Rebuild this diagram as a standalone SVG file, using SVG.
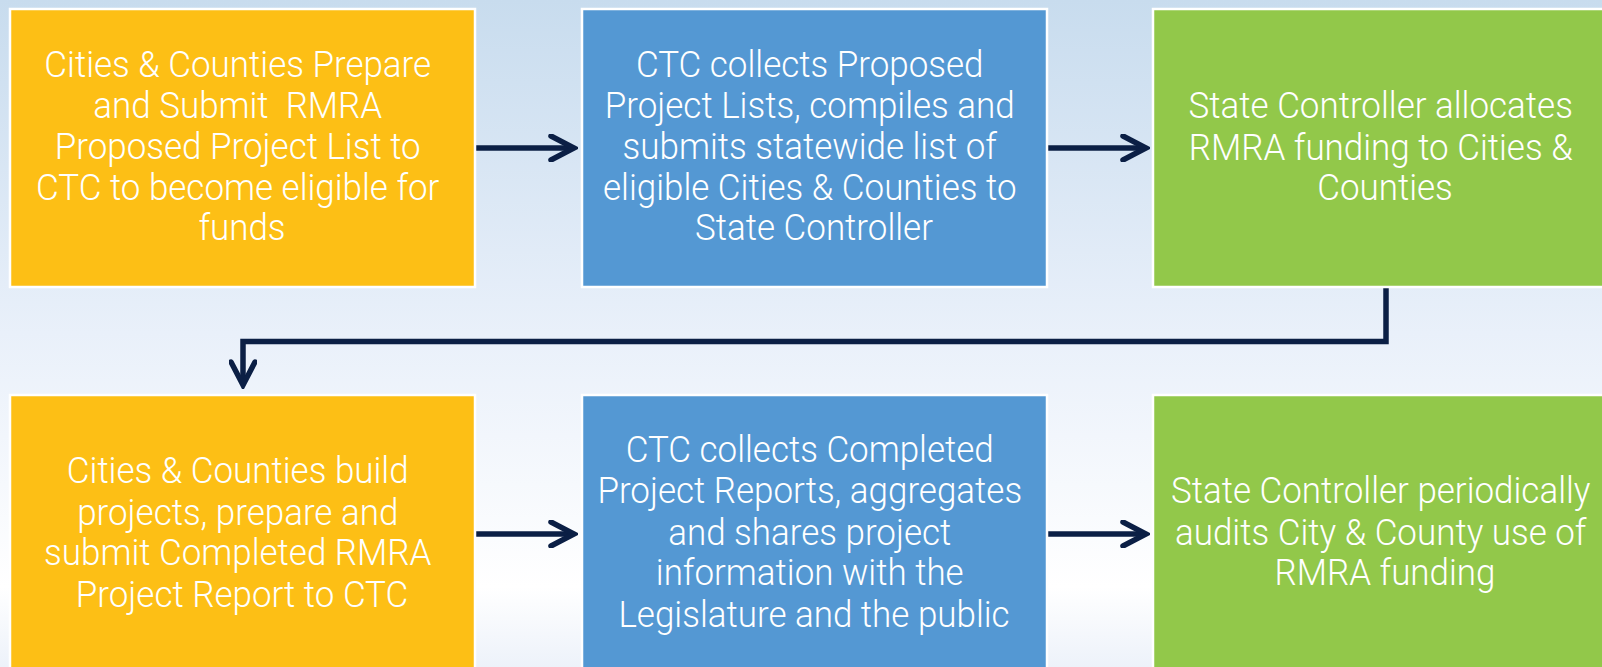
<svg xmlns="http://www.w3.org/2000/svg" width="1602" height="667" viewBox="0 0 1602 667">
<defs>
<linearGradient id="bg" x1="0" y1="0" x2="0" y2="1">
<stop offset="0" stop-color="#c8dcee"/>
<stop offset="0.5" stop-color="#e9f0fa"/>
<stop offset="0.88" stop-color="#ffffff"/>
<stop offset="1" stop-color="#edf2fa"/>
</linearGradient>
<marker id="ah" viewBox="-26 -14 30 28" markerWidth="30" markerHeight="28" refX="0" refY="0" orient="auto" markerUnits="userSpaceOnUse">
<path d="M-23,-12 L0,0 L-23,12" fill="none" stroke="#0b1f45" stroke-width="5.5" stroke-linecap="round" stroke-linejoin="miter"/>
</marker>
</defs>
<style>
.box{stroke:#ffffff;stroke-width:2.5}
.orange{fill:#fdbf15}
.blue{fill:#5498d3}
.green{fill:#92c84a}
.lbl{font-family:Roboto,"Liberation Sans",sans-serif;font-weight:300;font-size:37px;fill:#ffffff;text-anchor:middle}
.conn{fill:none;stroke:#0b1f45;stroke-width:5.5}
</style>
<rect x="0" y="0" width="1602" height="667" fill="url(#bg)"/>

<g id="connectors">
<path class="conn" d="M476,148 H574" marker-end="url(#ah)"/>
<path class="conn" d="M1048,148 H1146" marker-end="url(#ah)"/>
<path class="conn" d="M1386,288 V341.5 H243 V385" marker-end="url(#ah)"/>
<path class="conn" d="M476,534 H574" marker-end="url(#ah)"/>
<path class="conn" d="M1048,534 H1146" marker-end="url(#ah)"/>
</g>

<g id="node1">
<rect class="box orange" x="10" y="9" width="465" height="278"/>
<text class="lbl" transform="translate(242 0) scale(0.945 1)">
<tspan x="0" y="77">Cities &amp; Counties Prepare</tspan>
<tspan x="0" y="118">and Submit&#160; RMRA</tspan>
<tspan x="0" y="159">Proposed Project List to</tspan>
<tspan x="0" y="200">CTC to become eligible for</tspan>
<tspan x="0" y="240">funds</tspan>
</text>
</g>

<g id="node2">
<rect class="box blue" x="582" y="9" width="465" height="278"/>
<text class="lbl" transform="translate(814 0) scale(0.945 1)">
<tspan x="0" y="77">CTC collects Proposed</tspan>
<tspan x="0" y="118">Project Lists, compiles and</tspan>
<tspan x="0" y="159">submits statewide list of</tspan>
<tspan x="0" y="200">eligible Cities &amp; Counties to</tspan>
<tspan x="0" y="240">State Controller</tspan>
</text>
</g>

<g id="node3">
<rect class="box green" x="1153" y="9" width="465" height="278"/>
<text class="lbl" transform="translate(1385 0) scale(0.945 1)">
<tspan x="0" y="118">State Controller allocates</tspan>
<tspan x="0" y="160">RMRA funding to Cities &amp;</tspan>
<tspan x="0" y="200">Counties</tspan>
</text>
</g>

<g id="node4">
<rect class="box orange" x="10" y="395" width="465" height="280"/>
<text class="lbl" transform="translate(242 0) scale(0.945 1)">
<tspan x="0" y="483">Cities &amp; Counties build</tspan>
<tspan x="0" y="525">projects, prepare and</tspan>
<tspan x="0" y="565">submit Completed RMRA</tspan>
<tspan x="0" y="607">Project Report to CTC</tspan>
</text>
</g>

<g id="node5">
<rect class="box blue" x="582" y="395" width="465" height="280"/>
<text class="lbl" transform="translate(814 0) scale(0.945 1)">
<tspan x="0" y="462">CTC collects Completed</tspan>
<tspan x="0" y="503">Project Reports, aggregates</tspan>
<tspan x="0" y="545">and shares project</tspan>
<tspan x="0" y="585">information with the</tspan>
<tspan x="0" y="627">Legislature and the public</tspan>
</text>
</g>

<g id="node6">
<rect class="box green" x="1153" y="395" width="465" height="280"/>
<text class="lbl" transform="translate(1385 0) scale(0.945 1)">
<tspan x="0" y="503">State Controller periodically</tspan>
<tspan x="0" y="545">audits City &amp; County use of</tspan>
<tspan x="0" y="585">RMRA funding</tspan>
</text>
</g>
</svg>
